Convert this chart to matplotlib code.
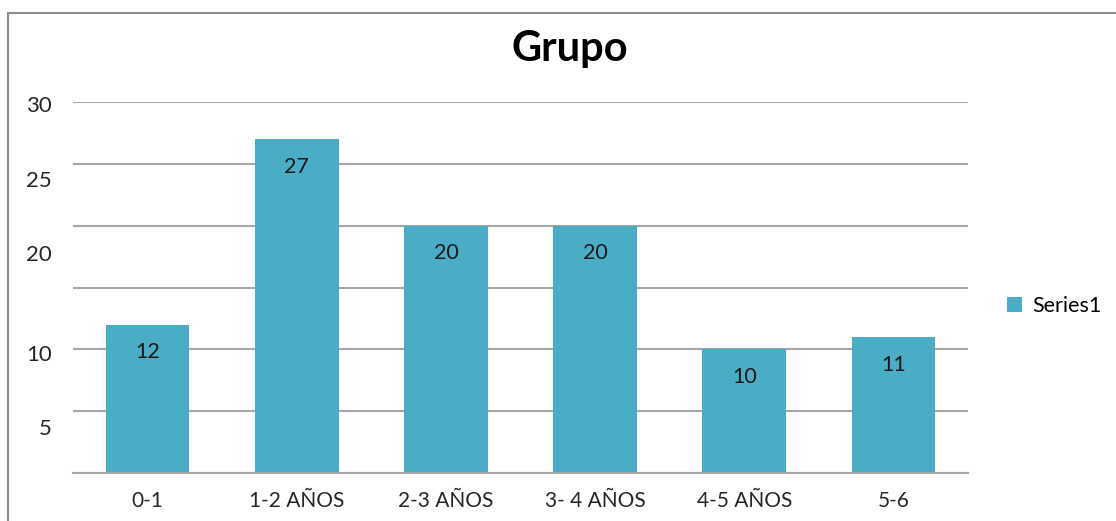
import matplotlib.pyplot as plt
from matplotlib.patches import Rectangle

categorias = ["0-1", "1-2 AÑOS", "2-3 AÑOS", "3- 4 AÑOS", "4-5 AÑOS", "5-6"]
valores = [12, 27, 20, 20, 10, 11]
lineas_y = [0, 5, 10, 15, 20, 25, 30]
# etiquetas del eje y tal como salen desplazadas en la hoja
pos_etiq_y = [29.8, 23.8, 17.8, 9.7, 3.7]
etiq_y = ["30", "25", "20", "10", "5"]

azul = "#4BACC6"
gris = "#A6A6A6"
fuente = "Lato"

fig = plt.figure(figsize=(11.16, 5.21), dpi=100)
ax = fig.add_axes([0.0654, 0.0921, 0.802, 0.7121])

x = range(len(categorias))
barras = ax.bar(x, valores, width=0.56, color=azul, zorder=3, label="Series1")

for i, v in zip(x, valores):
    ax.annotate(str(v), (i, v), xytext=(0, -20), textcoords="offset points",
                ha="center", va="center", fontsize=15.5, family=fuente, color="#1a1a1a")

ax.set_xlim(-0.5, len(categorias) - 0.5)
ax.set_ylim(0, 30)
ax.set_xticks(list(x))
ax.set_xticklabels(categorias, fontsize=15, family=fuente, color="#262626")
ax.set_yticks(lineas_y, minor=True)
ax.set_yticks(pos_etiq_y)
ax.set_yticklabels(etiq_y, fontsize=16, family=fuente, color="#262626")
ax.tick_params(axis="both", which="both", length=0)
ax.tick_params(axis="x", pad=13)
ax.tick_params(axis="y", pad=15)
ax.grid(axis="y", which="minor", color=gris, linewidth=1.5, zorder=0)

for lado in ["top", "right", "left"]:
    ax.spines[lado].set_visible(False)
ax.spines["bottom"].set_color(gris)
ax.spines["bottom"].set_linewidth(1.5)
ax.spines["bottom"].set_zorder(4)

fig.text(0.511, 0.905, "Grupo", ha="center", va="center", fontsize=30,
         fontweight="bold", family=fuente)

ax.legend(loc="center left", bbox_to_anchor=(1.022, 0.45), frameon=False,
          handlelength=0.7, handleheight=0.7, handletextpad=0.45,
          prop={"family": fuente, "size": 15.5})

# borde del área del gráfico
fig.patches.append(Rectangle((8 / 1116, -0.1), 1.2, (521 - 13) / 521 + 0.1,
                             transform=fig.transFigure, fill=False,
                             edgecolor="#8c8c8c", linewidth=1.5))

fig.savefig("out.png", dpi=100)
